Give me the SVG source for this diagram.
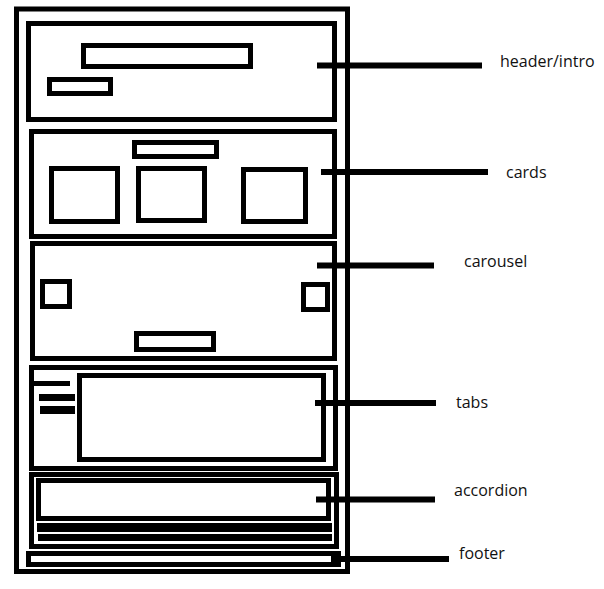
<svg xmlns="http://www.w3.org/2000/svg" width="604" height="589" viewBox="0 0 604 589">
<style>
.b{fill:none;stroke:#000;stroke-width:5}
.f{fill:#000}
.c{stroke:#000;stroke-width:6;fill:none}
.t{font-family:"Open Sans","Liberation Sans",sans-serif;font-size:16px;fill:#111}
</style>
<rect width="604" height="589" fill="#fff"/>
<g id="page"><rect class="b" x="16.5" y="9" width="331" height="562.5"/></g>
<g id="header">
<rect class="b" x="28.5" y="23.5" width="306" height="96"/>
<rect class="b" x="83.5" y="45.5" width="167" height="21"/>
<rect class="b" x="49.5" y="79.5" width="61" height="14"/>
</g>
<g id="cards">
<rect class="b" x="31.5" y="131.5" width="303" height="105"/>
<rect class="b" x="134.5" y="142.5" width="82" height="14"/>
<rect class="b" x="51.5" y="168.5" width="66" height="53"/>
<rect class="b" x="138.5" y="168.5" width="66" height="52"/>
<rect class="b" x="243.5" y="169.5" width="62" height="52"/>
</g>
<g id="carousel">
<rect class="b" x="32.5" y="243.5" width="302" height="115"/>
<rect class="b" x="42.5" y="281.5" width="27" height="25"/>
<rect class="b" x="303.5" y="284.5" width="24" height="25"/>
<rect class="b" x="136.5" y="333.5" width="77" height="16"/>
</g>
<g id="tabs">
<rect class="b" x="31.5" y="367.5" width="304" height="101"/>
<rect class="b" x="79.5" y="375.5" width="244" height="84"/>
<rect class="f" x="33" y="381" width="37" height="5"/>
<rect class="f" x="39" y="394" width="36" height="7"/>
<rect class="f" x="40" y="406" width="35" height="8"/>
</g>
<g id="accordion">
<rect class="b" x="31.5" y="474.5" width="305" height="72"/>
<rect class="b" x="38.5" y="480.5" width="290" height="38"/>
<rect class="f" x="37" y="523" width="295" height="9"/>
<rect class="f" x="38" y="534" width="294" height="7"/>
</g>
<g id="footer"><rect class="b" x="28.5" y="553.5" width="310" height="11"/></g>
<g id="connectors">
<line class="c" x1="317" y1="65.5" x2="482" y2="65.5"/>
<line class="c" x1="321" y1="172" x2="488" y2="172"/>
<line class="c" x1="317" y1="265.5" x2="434" y2="265.5"/>
<line class="c" x1="315" y1="403" x2="436" y2="403"/>
<line class="c" x1="316" y1="499.5" x2="435" y2="499.5"/>
<line class="c" x1="331" y1="559" x2="449" y2="559"/>
</g>
<g id="labels">
<text class="t" x="500" y="67">header/intro</text>
<text class="t" x="506" y="178">cards</text>
<text class="t" x="464" y="267">carousel</text>
<text class="t" x="456" y="408">tabs</text>
<text class="t" x="454" y="496">accordion</text>
<text class="t" x="459" y="559">footer</text>
</g>
</svg>
